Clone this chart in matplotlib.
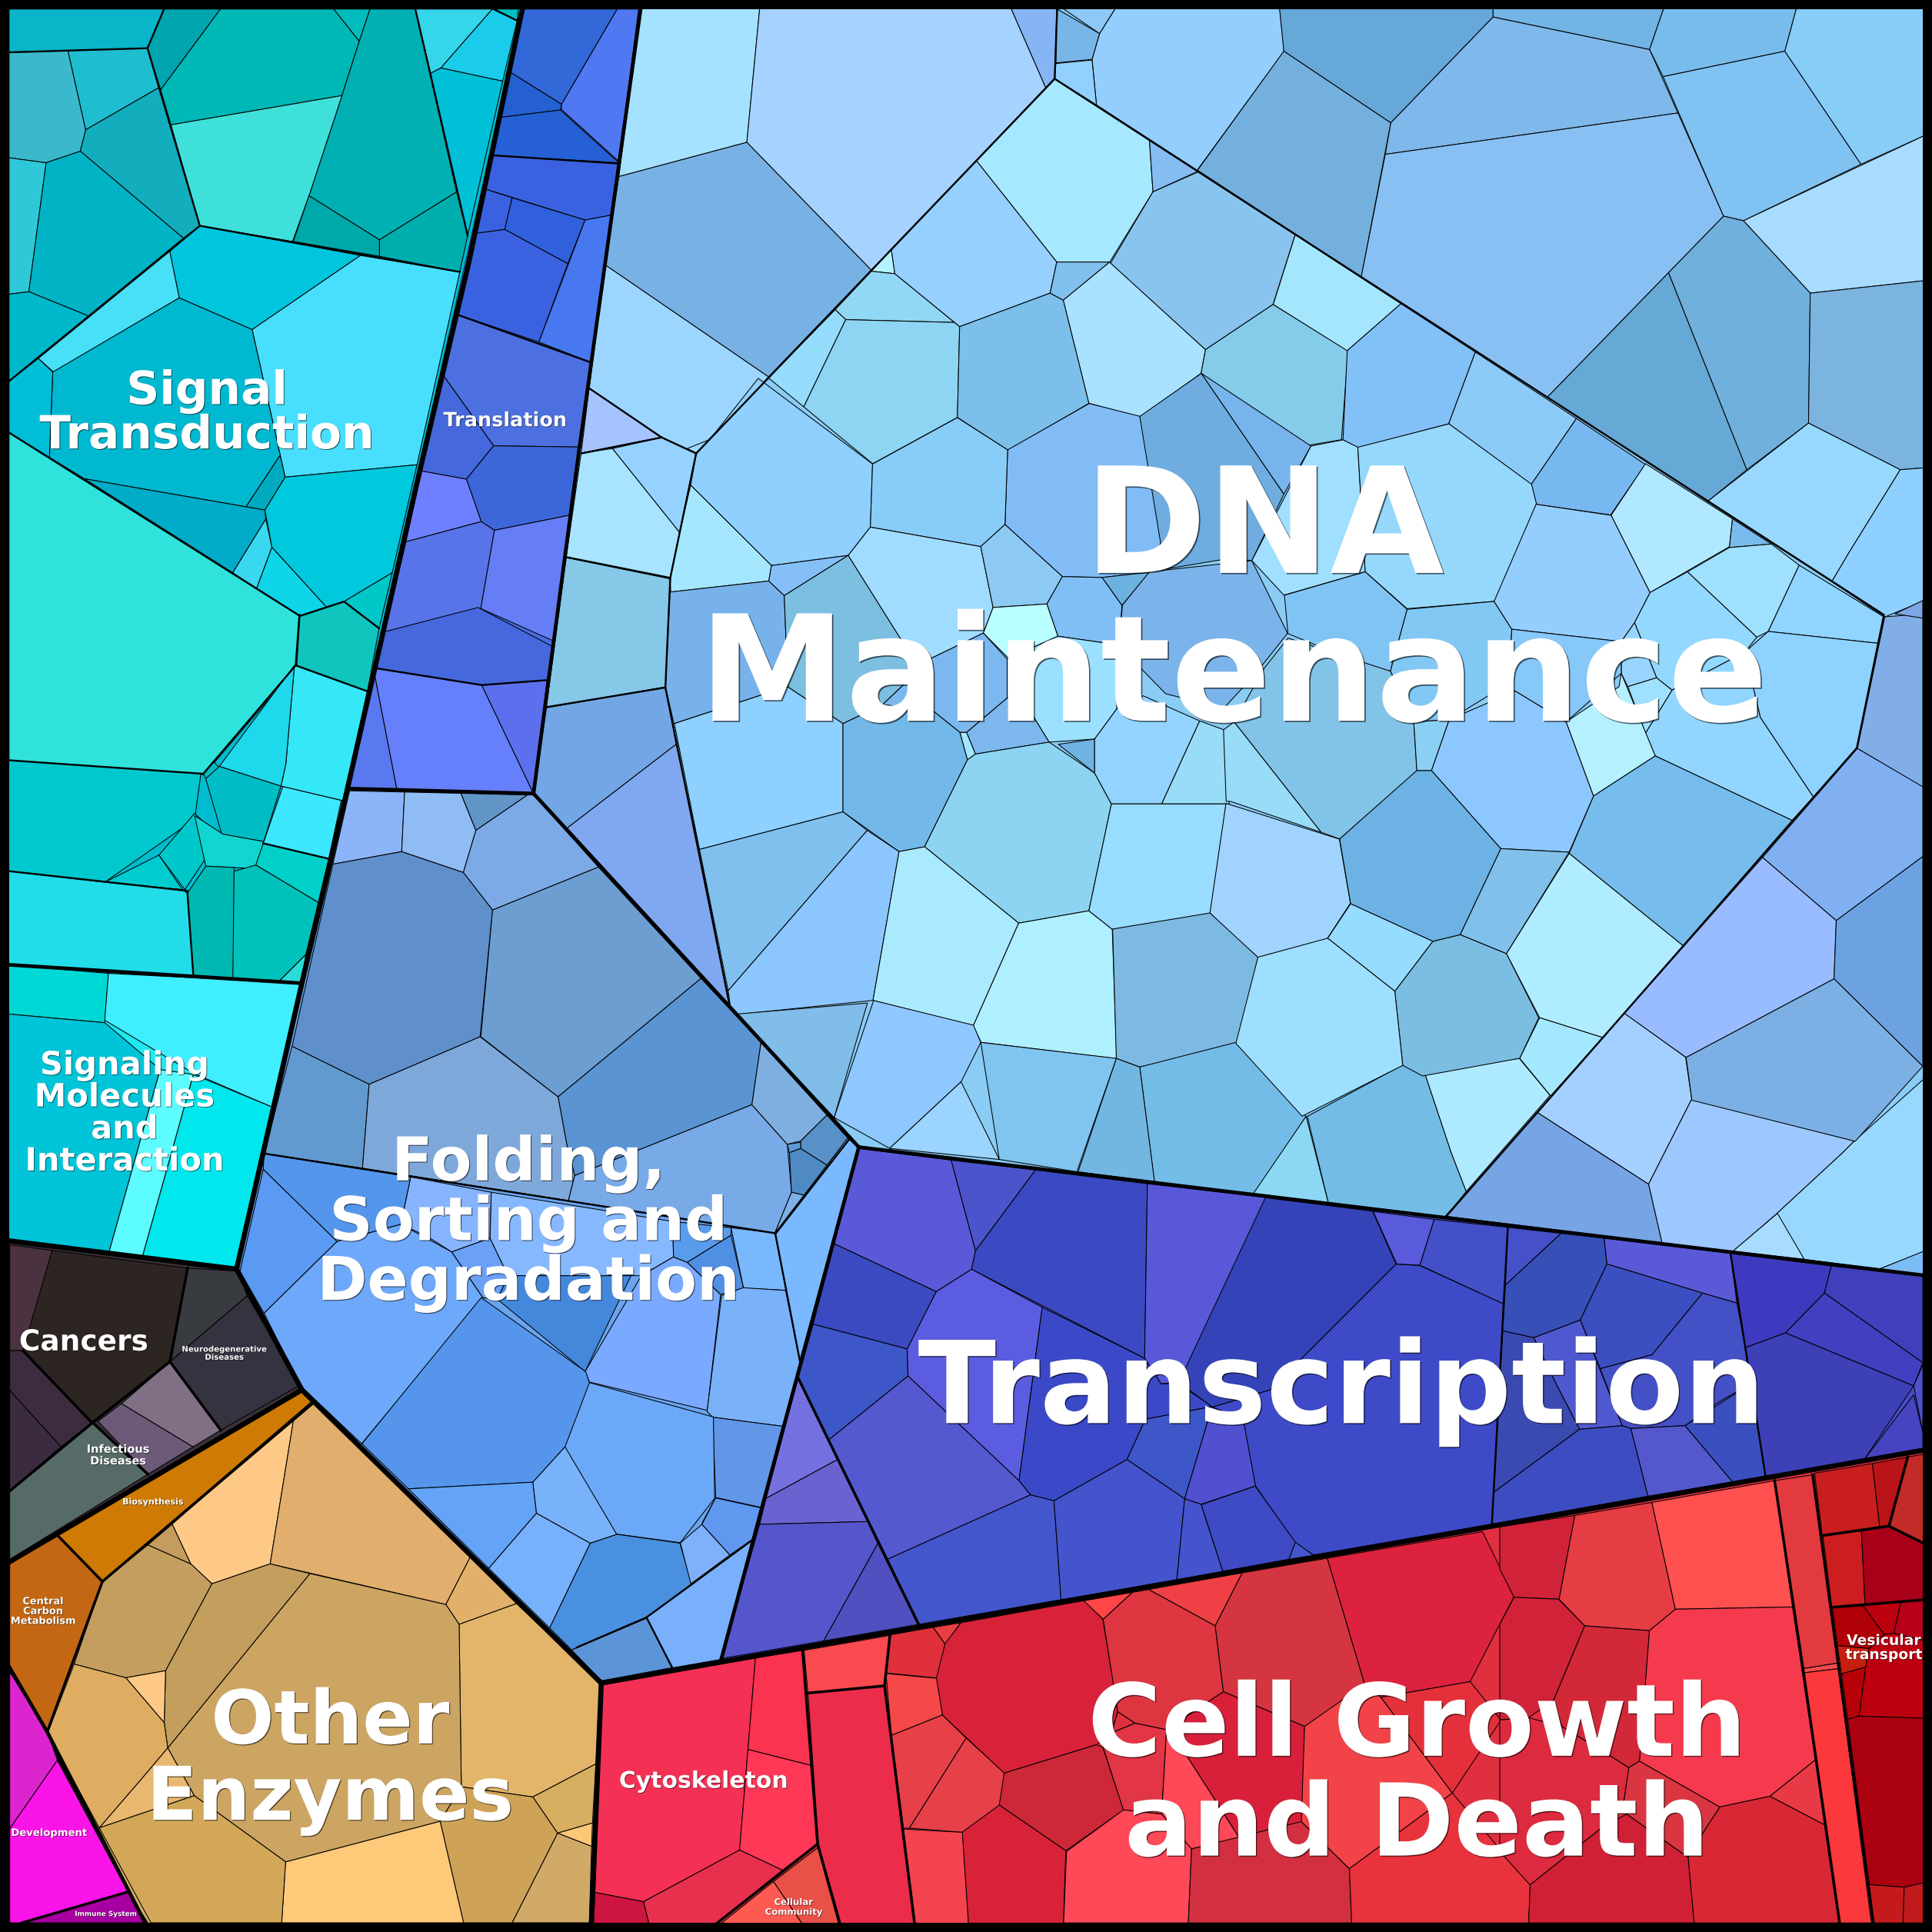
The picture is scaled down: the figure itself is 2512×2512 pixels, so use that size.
import matplotlib
matplotlib.use("Agg")
import matplotlib.pyplot as plt
import matplotlib.patheffects as pe
from matplotlib.patches import Rectangle

# Areas of the picture the vertices were read from: x, y, width, height
view = (0, 0, 2512, 2512)
crop_a = (0, 0, 840, 840)
crop_b = (700, 500, 900, 900)
crop_c = (1600, 600, 900, 900)
crop_d = (0, 1600, 900, 900)
crop_e = (300, 1000, 850, 850)
crop_f = (900, 1460, 800, 800)
crop_g = (1700, 1500, 812, 812)
crop_h = (750, 1900, 612, 612)
crop_i = (1350, 1850, 662, 662)
crop_j = (1950, 1850, 562, 662)
crop_k = (800, 0, 900, 720)
crop_l = (1650, 0, 862, 720)


def conv(crop, pts):
    x0, y0, w, h = crop
    return [(x0 + x * w / 1568, y0 + y * h / 1568) for x, y in pts]


def place(crop, cells):
    return [(c, conv(crop, pts)) for c, pts in cells]


# Top level blocks, painted first
regions = [
    ("#00bcd0", [(7, 7), (424, 7), (245, 798), (7, 783)]),
    ("#20e8f0", [(7, 783), (245, 798), (192, 1030), (7, 1007)]),
    ("#4a6ee0", [(424, 7), (520, 7), (433, 644), (282, 640)]),
    ("#8accf4", [(520, 7), (1561, 7), (1561, 1035), (697, 931), (433, 644)]),
    ("#6aa4ee", [(282, 640), (433, 644), (697, 931), (585, 1348), (488, 1365), (245, 1128), (192, 1030)]),
    ("#4450c8", [(697, 931), (1561, 1035), (1561, 1177), (585, 1348)]),
    ("#e03040", [(488, 1365), (1561, 1177), (1561, 1561), (480, 1561)]),
    ("#d4aa66", [(245, 1128), (488, 1365), (480, 1561), (118, 1561), (38, 1405), (82, 1285)]),
    ("#3a3038", [(7, 1007), (192, 1030), (245, 1128), (7, 1268)]),
]

signal_cells = place(crop_a, [
    ("#08b5c9", [(22, 22), (398, 22), (358, 117), (22, 127)]),
    ("#00a5b0", [(398, 22), (535, 22), (390, 218), (358, 117)]),
    ("#00b8b5", [(535, 22), (810, 22), (872, 100), (830, 232), (415, 303), (390, 218)]),
    ("#00bcbc", [(810, 22), (898, 22), (872, 100)]),
    ("#00b0b3", [(898, 22), (1008, 22), (1108, 466), (921, 582), (750, 475), (830, 232), (872, 100)]),
    ("#40e0da", [(415, 303), (830, 232), (750, 475), (710, 586), (485, 548)]),
    ("#00a9a9", [(750, 475), (921, 582), (921, 622), (712, 586)]),
    ("#00aeae", [(921, 582), (1108, 466), (1135, 572), (1116, 660), (921, 622)]),
    ("#35d5ea", [(1008, 22), (1195, 22), (1070, 165), (1045, 178)]),
    ("#1accea", [(1195, 22), (1255, 50), (1220, 197), (1070, 165)]),
    ("#00c0c5", [(1198, 22), (1258, 22), (1255, 50)]),
    ("#00c0d8", [(1045, 178), (1070, 165), (1220, 197), (1135, 572)]),
    ("#3ab9cc", [(22, 127), (165, 123), (208, 315), (195, 367), (112, 395), (22, 383)]),
    ("#1fbdd0", [(165, 123), (358, 117), (385, 213), (208, 315)]),
    ("#12aebd", [(208, 315), (385, 213), (485, 548), (445, 578), (195, 367)]),
    ("#2ec8d8", [(22, 383), (112, 395), (70, 708), (22, 714)]),
    ("#00b4c6", [(112, 395), (195, 367), (445, 578), (215, 767), (70, 708)]),
    ("#00b8cb", [(22, 714), (70, 708), (215, 767), (22, 925)]),
    ("#00c5dd", [(485, 548), (875, 620), (612, 800), (435, 723), (412, 610)]),
    ("#47e0f7", [(412, 610), (435, 723), (130, 903), (93, 870)]),
    ("#48dfff", [(875, 620), (1116, 660), (1012, 1128), (692, 1158), (612, 800)]),
    ("#00b8d0", [(128, 903), (435, 723), (612, 800), (680, 1105), (597, 1230), (205, 1162), (120, 1110)]),
    ("#00aac0", [(680, 1105), (692, 1158), (643, 1238), (597, 1230)]),
    ("#00acc8", [(205, 1162), (643, 1238), (645, 1260), (565, 1390)]),
    ("#3ad8f0", [(645, 1260), (660, 1328), (623, 1428), (565, 1390)]),
    ("#0fd5e8", [(660, 1328), (792, 1473), (728, 1495), (623, 1428)]),
    ("#00c8dd", [(692, 1158), (1012, 1128), (952, 1390), (835, 1460), (792, 1473), (660, 1328), (643, 1238)]),
    ("#00c8c8", [(835, 1460), (952, 1390), (920, 1525)]),
    ("#00bdd8", [(22, 925), (93, 870), (128, 903), (120, 1110), (22, 1050)]),
    ("#30e2dc", [(22, 1050), (728, 1495), (720, 1618), (495, 1880), (22, 1848)]),
    ("#10c5bd", [(728, 1495), (835, 1460), (920, 1525), (892, 1678), (720, 1618)]),
]) + place(view, [
    ("#35e8f8", [(239, 540), (298, 561), (279, 650), (228, 638), (232, 620)]),
    ("#1ed8ec", [(239, 540), (232, 620), (228, 638), (178, 622)]),
    ("#00c8cc", [(7, 617), (163, 628), (158, 665), (85, 716), (7, 707)]),
    ("#00ccd0", [(85, 716), (129, 694), (148, 722)]),
    ("#00c8ca", [(158, 660), (178, 680), (150, 722), (129, 694)]),
    ("#00bcc0", [(165, 628), (173, 618), (180, 625), (167, 632)]),
    ("#00bdc5", [(167, 632), (178, 622), (228, 638), (214, 683), (180, 677)]),
    ("#10d5d0", [(158, 662), (181, 677), (214, 683), (208, 705), (167, 703)]),
    ("#00b8b2", [(167, 703), (190, 704), (190, 797), (157, 793), (152, 725)]),
    ("#22dde8", [(7, 707), (85, 716), (148, 722), (152, 725), (157, 793), (7, 783)]),
]) + place(crop_e, [
    ("#3de8ff", [(125, 42), (265, 75), (235, 215), (78, 178)]),
    ("#00d0c8", [(78, 178), (235, 215), (210, 320), (60, 230)]),
    ("#00c2bb", [(8, 245), (60, 230), (210, 320), (180, 445), (118, 507), (5, 502)]),
    ("#2adcd6", [(180, 445), (170, 512), (118, 507)]),
])

molecule_cells = place(view, [
    ("#00d8d5", [(7, 783), (88, 790), (85, 830), (7, 823)]),
    ("#3feeff", [(88, 790), (245, 798), (222, 899), (157, 871), (85, 828)]),
    ("#00c4d8", [(7, 823), (85, 830), (130, 868), (88, 1018), (7, 1007)]),
    ("#5cfcff", [(130, 868), (157, 872), (115, 1022), (88, 1018)]),
    ("#00e8ee", [(157, 872), (222, 899), (192, 1030), (115, 1022)]),
])

translation_cells = place(crop_a, [
    ("#3268d8", [(1270, 22), (1498, 22), (1363, 253), (1238, 175)]),
    ("#4f78f2", [(1498, 22), (1550, 22), (1502, 392), (1362, 265), (1363, 253)]),
    ("#2560d0", [(1238, 175), (1363, 253), (1360, 267), (1213, 285)]),
    ("#2560d5", [(1213, 285), (1360, 267), (1502, 395), (1195, 377)]),
    ("#3a62e0", [(1195, 377), (1502, 397), (1484, 522), (1420, 534), (1175, 458)]),
    ("#3a62e0", [(1175, 458), (1243, 480), (1225, 557), (1150, 567)]),
    ("#3060dc", [(1243, 480), (1420, 534), (1378, 640), (1225, 557)]),
    ("#3a62e0", [(1150, 567), (1225, 557), (1378, 640), (1308, 830), (1105, 762)]),
    ("#4878f0", [(1420, 534), (1484, 522), (1435, 880), (1308, 830)]),
    ("#4d70e0", [(1105, 762), (1435, 880), (1408, 1085), (1198, 1082), (1073, 907)]),
    ("#4568dc", [(1073, 907), (1198, 1082), (1132, 1163), (1022, 1143)]),
    ("#3d66d8", [(1198, 1082), (1408, 1085), (1385, 1250), (1200, 1287), (1168, 1266), (1132, 1163)]),
    ("#6e80ff", [(1022, 1143), (1132, 1163), (1168, 1266), (985, 1315)]),
    ("#5874e8", [(985, 1315), (1168, 1266), (1200, 1287), (1167, 1477), (932, 1535)]),
    ("#667ef5", [(1200, 1287), (1385, 1250), (1342, 1555), (1167, 1477)]),
]) + place(view, [
    ("#4568dc", [(311, 513), (388, 493), (449, 525), (444, 552), (391, 556), (303, 542)]),
    ("#5a78f0", [(303, 542), (322, 640), (282, 640)]),
    ("#6580fa", [(303, 542), (391, 556), (433, 644), (322, 640)]),
    ("#5c70ee", [(391, 556), (444, 552), (433, 644)]),
])

folding_cells = place(crop_e, [
    ("#8cb4f8", [(285, 52), (417, 55), (410, 198), (245, 228)]),
    ("#90bcf4", [(417, 55), (552, 58), (588, 147), (558, 248), (410, 198)]),
    ("#6295c8", [(552, 58), (712, 62), (588, 147)]),
    ("#7caae6", [(712, 62), (727, 62), (882, 235), (628, 338), (558, 248), (588, 147)]),
    ("#5f90cb", [(245, 228), (410, 198), (558, 248), (628, 338), (598, 642), (332, 756), (147, 665)]),
    ("#6c9ed2", [(628, 338), (882, 235), (1128, 502), (785, 786), (600, 642)]),
    ("#5a94d2", [(1128, 502), (1272, 655), (1250, 805), (825, 975), (806, 900), (785, 786)]),
    ("#629ad0", [(147, 665), (332, 756), (316, 957), (80, 922)]),
    ("#7ea8da", [(332, 756), (598, 642), (785, 786), (806, 900), (825, 975), (810, 1035), (316, 957)]),
    ("#78aae8", [(825, 975), (1250, 805), (1335, 900), (1345, 1015), (1305, 1113), (810, 1035)]),
    ("#7fafe0", [(1272, 655), (1430, 830), (1367, 892), (1335, 900), (1250, 805)]),
    ("#5890c8", [(1430, 830), (1480, 885), (1430, 950), (1367, 910), (1367, 892)]),
    ("#5e9ad8", [(1335, 900), (1367, 895), (1367, 910), (1340, 920)]),
    ("#4f8ac4", [(1340, 920), (1367, 910), (1430, 950), (1375, 1022), (1345, 1015)]),
    ("#80b0e8", [(1345, 1015), (1375, 1022), (1305, 1113)]),
    ("#7ab8ff", [(1505, 908), (1365, 1418), (1305, 1115), (1480, 885)]),
    ("#5496ec", [(80, 922), (432, 978), (408, 1092), (255, 1133), (78, 960)]),
    ("#5a9af2", [(78, 960), (255, 1133), (80, 1305), (22, 1205)]),
    ("#6ea8fb", [(255, 1133), (408, 1092), (530, 1158), (605, 1268), (314, 1618), (166, 1478), (80, 1305)]),
    ("#86b4ff", [(432, 978), (625, 1015), (622, 1125), (530, 1158), (470, 1120), (408, 1092)]),
    ("#6aa0f6", [(622, 1125), (665, 1215), (640, 1272), (605, 1268), (530, 1158)]),
    ("#86b8ff", [(625, 1015), (1060, 1085), (1062, 1170), (985, 1215), (665, 1215), (622, 1125)]),
    ("#4488dc", [(665, 1215), (960, 1215), (850, 1445), (640, 1272)]),
    ("#7aaaff", [(985, 1215), (1062, 1170), (1095, 1183), (1175, 1260), (1143, 1538), (860, 1470), (850, 1445)]),
    ("#5a9cec", [(1060, 1085), (1200, 1100), (1200, 1118), (1095, 1183), (1062, 1170)]),
    ("#5090e4", [(1095, 1183), (1200, 1118), (1230, 1245), (1175, 1260)]),
    ("#7ab8fd", [(1200, 1100), (1305, 1113), (1332, 1250), (1230, 1245)]),
]) + place(crop_f, [
    ("#7ab2fa", [(38, 735), (75, 440), (130, 420), (238, 427), (275, 610), (230, 773), (52, 750)]),
    ("#6296e6", [(52, 750), (230, 773), (175, 980), (60, 955)]),
    ("#5f9af0", [(60, 955), (175, 980), (155, 1062), (97, 1102), (25, 1020)]),
]) + place(view, [
    ("#6ca8f8", [(478, 1122), (579, 1150), (580, 1216), (552, 1252), (500, 1245), (458, 1174)]),
]) + place(crop_d, [
    ("#5596ec", [(1090, 152), (1327, 320), (1335, 345), (1280, 490), (1207, 570), (925, 585), (820, 483)]),
    ("#4a90e0", [(1337, 708), (1397, 688), (1540, 708), (1567, 800), (1465, 878), (1295, 950), (1245, 900)]),
    ("#77b0fb", [(1215, 640), (1337, 708), (1245, 900), (1107, 765)]),
    ("#78b2fb", [(1207, 570), (1280, 490), (1397, 688), (1337, 708), (1215, 640)]),
    ("#64a4f8", [(925, 585), (1207, 570), (1215, 640), (1107, 765)]),
    ("#5c94d8", [(1295, 950), (1465, 878), (1523, 990), (1362, 1020)]),
]) + place(crop_h, [
    ("#7eb0fc", [(345, 272), (417, 210), (510, 312), (380, 408)]),
    ("#6098f0", [(462, 122), (612, 155), (585, 260), (510, 312), (417, 210)]),
    ("#78b0fb", [(232, 520), (585, 262), (480, 660), (318, 688)]),
])

transcription_cells = place(crop_f, [
    ("#5a5ad8", [(425, 65), (660, 95), (722, 326), (712, 373), (622, 430), (362, 308)]),
    ("#4c54cc", [(660, 95), (875, 120), (722, 326)]),
    ("#3b4ac2", [(875, 120), (1160, 155), (1153, 600), (712, 373), (722, 326)]),
    ("#5858d8", [(1160, 155), (1463, 190), (1270, 600), (1240, 660), (1195, 665), (1153, 600)]),
    ("#3b4ac0", [(362, 308), (622, 430), (548, 576), (308, 513)]),
    ("#3d56c8", [(308, 513), (548, 576), (550, 645), (348, 808), (270, 650)]),
    ("#5c5ce0", [(622, 430), (712, 373), (892, 470), (833, 912), (550, 645), (548, 576)]),
    ("#3b49c8", [(892, 470), (1153, 600), (1195, 665), (1240, 665), (1325, 723), (1155, 755), (1108, 858), (922, 963), (862, 948), (833, 912)]),
    ("#3d56c8", [(1155, 755), (1325, 723), (1255, 958), (1108, 858)]),
    ("#5050d0", [(1325, 723), (1405, 755), (1436, 925), (1297, 972), (1255, 958)]),
    ("#5459d0", [(550, 645), (833, 912), (862, 948), (498, 1112), (348, 808)]),
    ("#4456cc", [(498, 1112), (862, 948), (922, 963), (940, 1215), (577, 1278)]),
    ("#4554cc", [(922, 963), (1108, 858), (1255, 958), (1235, 1165), (940, 1215)]),
    ("#4554cc", [(1255, 958), (1297, 972), (1352, 1143), (1235, 1165)]),
    ("#7570e0", [(270, 650), (370, 858), (188, 957)]),
    ("#6a62d0", [(188, 957), (370, 858), (447, 1016), (172, 1023)]),
    ("#5555cc", [(172, 1023), (447, 1016), (473, 1072), (335, 1320), (75, 1365)]),
    ("#5050c0", [(473, 1072), (577, 1278), (335, 1320)]),
]) + place(view, [
    ("#3444b8", [(1027, 972), (1114, 983), (1133, 1026), (1031, 1128), (984, 1142), (957, 1122), (966, 1102)]),
    ("#3e4ac8", [(1133, 1026), (1152, 1027), (1220, 1058), (1211, 1237), (1066, 1262), (1051, 1252), (1019, 1206),
                 (1009, 1152), (984, 1142), (1031, 1128)]),
]) + place(crop_i, [
    ("#3f4ac6", [(502, 252), (668, 195), (792, 368), (772, 420), (568, 457)]),
    ("#4456cc", [(792, 368), (848, 408), (772, 420)]),
]) + place(crop_g, [
    ("#4450c8", [(318, 165), (503, 185), (492, 377), (282, 280)]),
    ("#5a5adc", [(165, 145), (318, 165), (282, 280), (224, 277)]),
    ("#4650c8", [(503, 185), (637, 200), (497, 330)]),
    ("#3650b8", [(637, 200), (745, 212), (752, 277), (685, 418), (568, 462), (490, 445), (497, 330)]),
    ("#5a5ad8", [(745, 212), (1062, 250), (1078, 375), (992, 350), (752, 277)]),
    ("#3c4fc0", [(752, 277), (992, 350), (865, 505), (735, 540), (685, 418)]),
    ("#4450c5", [(992, 350), (1078, 375), (1100, 490), (1113, 578), (1030, 625), (948, 683), (812, 690), (790, 683), (735, 540), (865, 505)]),
    ("#5058d0", [(568, 462), (685, 418), (790, 683), (683, 692), (610, 550)]),
    ("#3b4ab0", [(490, 445), (568, 462), (610, 550), (683, 692), (468, 850)]),
    ("#3e4cc2", [(683, 692), (790, 683), (812, 690), (855, 860), (463, 930), (468, 850)]),
    ("#5458cc", [(812, 690), (948, 683), (1068, 825), (855, 860)]),
    ("#3a50c0", [(948, 683), (1113, 578), (1150, 810), (1068, 825)]),
    ("#3e3abf", [(1062, 250), (1315, 282), (1298, 350), (1200, 450), (1100, 487)]),
    ("#4040bc", [(1315, 282), (1545, 308), (1545, 525), (1298, 350)]),
    ("#4240c0", [(1298, 350), (1545, 525), (1522, 583), (1200, 450)]),
    ("#3e40b8", [(1100, 487), (1200, 450), (1522, 583), (1398, 768), (1150, 810)]),
    ("#5050d0", [(1522, 583), (1545, 530), (1545, 700)]),
    ("#4644c0", [(1522, 605), (1545, 700), (1545, 740), (1398, 768)]),
])

growth_cells = place(crop_h, [
    ("#f53055", [(85, 742), (595, 655), (570, 960), (542, 1295), (222, 1467), (60, 1436)]),
    ("#f93350", [(595, 655), (752, 630), (780, 1013), (570, 960)]),
    ("#ff3858", [(570, 960), (780, 1013), (802, 1275), (685, 1362), (542, 1295)]),
    ("#e6304e", [(222, 1467), (542, 1295), (685, 1362), (465, 1540), (240, 1540)]),
    ("#cc153f", [(60, 1436), (222, 1467), (240, 1540), (55, 1540)]),
    ("#e85048", [(655, 1400), (805, 1285), (875, 1540), (750, 1540)]),
    ("#fd5b52", [(480, 1540), (655, 1400), (750, 1540)]),
    ("#f94a50", [(757, 630), (1043, 580), (1025, 748), (770, 772)]),
    ("#ec2c4b", [(770, 772), (1025, 748), (1125, 1540), (880, 1540), (805, 1275)]),
    ("#df303c", [(1045, 578), (1187, 553), (1228, 610), (1200, 722), (1030, 705)]),
    ("#e83e44", [(1187, 553), (1278, 538), (1228, 610)]),
    ("#f54848", [(1030, 707), (1200, 723), (1218, 845), (1048, 913)]),
    ("#e84048", [(1048, 913), (1218, 845), (1297, 922), (1108, 1222), (1088, 1222)]),
    ("#e64048", [(1297, 922), (1425, 1038), (1410, 1148), (1285, 1236), (1108, 1222)]),
    ("#f44450", [(1088, 1225), (1285, 1236), (1305, 1540), (1128, 1540)]),
]) + place(view, [
    ("#d8223a", [(780, 1317), (880, 1299), (895, 1314), (904, 1368), (907, 1389), (902, 1406), (890, 1416),
                 (815, 1439), (784, 1410), (765, 1392), (760, 1362), (767, 1334)]),
    ("#cc2838", [(815, 1439), (890, 1416), (895, 1418), (912, 1469), (865, 1502), (811, 1465)]),
    ("#d82238", [(781, 1487), (811, 1465), (865, 1502), (863, 1561), (786, 1561)]),
]) + place(crop_i, [
    ("#ff4545", [(140, 548), (290, 522), (200, 605)]),
    ("#dd3640", [(200, 605), (290, 522), (340, 513), (545, 625), (570, 828), (395, 945), (298, 925), (245, 890), (232, 810)]),
    ("#ee4045", [(340, 513), (628, 462), (545, 625)]),
    ("#d53540", [(628, 462), (890, 417), (1005, 805), (925, 875), (820, 935), (570, 828), (545, 625)]),
    ("#dc223e", [(890, 417), (1368, 335), (1465, 535), (1330, 797), (1055, 845), (1005, 805)]),
    ("#d8203a", [(570, 828), (820, 935), (815, 1230), (685, 1260), (620, 1280), (460, 1030), (395, 945)]),
    ("#e0303e", [(245, 890), (298, 925), (225, 955)]),
    ("#e23545", [(298, 925), (395, 945), (380, 1205), (262, 1192), (200, 1000), (225, 955)]),
    ("#ff4858", [(395, 945), (460, 1030), (620, 1280), (470, 1312), (380, 1205)]),
    ("#ff4858", [(262, 1192), (380, 1205), (472, 1312), (462, 1540), (78, 1540), (87, 1320)]),
    ("#d23040", [(472, 1312), (680, 1260), (810, 1228), (958, 1373), (965, 1540), (462, 1540)]),
    ("#f24348", [(820, 935), (1005, 805), (1055, 845), (1275, 1140), (1120, 1255), (958, 1373), (810, 1228)]),
    ("#e8323c", [(958, 1373), (1275, 1140), (1515, 1423), (1510, 1540), (965, 1540)]),
    ("#e4303a", [(1055, 845), (1330, 797), (1425, 915), (1275, 1140)]),
]) + place(crop_j, [
    ("#e63c44", [(272, 285), (552, 245), (637, 574), (543, 640), (308, 625), (215, 543)]),
    ("#ff5050", [(552, 245), (997, 178), (1062, 567), (637, 574)]),
    ("#d02238", [(0, 320), (272, 285), (215, 543), (52, 537), (0, 450)]),
    ("#d02238", [(52, 537), (213, 543), (308, 625), (195, 855), (105, 908), (0, 915), (0, 620)]),
    ("#d22838", [(308, 625), (543, 640), (507, 1042), (468, 1062), (405, 1028), (225, 935), (195, 855)]),
    ("#f53a4e", [(543, 640), (637, 574), (1062, 567), (1145, 1038), (980, 1150), (798, 1183), (507, 1042)]),
    ("#e23a3e", [(997, 178), (1135, 160), (1225, 740), (1100, 757)]),
    ("#f44a50", [(1100, 757), (1225, 740), (1228, 757), (1102, 770)]),
    ("#fb383c", [(1102, 770), (1228, 757), (1348, 1540), (1233, 1540)]),
    ("#e83a46", [(980, 1150), (1145, 1038), (1178, 1238)]),
    ("#d82835", [(798, 1183), (980, 1150), (1178, 1238), (1230, 1540), (705, 1540), (683, 1338), (750, 1245)]),
    ("#da3642", [(468, 1062), (507, 1042), (798, 1183), (750, 1245), (683, 1338), (460, 1205), (450, 1165)]),
    ("#dc2a3e", [(105, 908), (225, 935), (405, 1028), (468, 1062), (450, 1165), (380, 1240), (110, 1423), (0, 1320), (0, 915)]),
    ("#cf2035", [(110, 1423), (380, 1240), (460, 1205), (683, 1338), (705, 1540), (105, 1540)]),
])

vesicular_cells = place(crop_j, [
    ("#c81e1e", [(1142, 155), (1352, 125), (1378, 320), (1170, 347)]),
    ("#bb1418", [(1352, 125), (1480, 105), (1412, 318), (1378, 320)]),
    ("#c42a28", [(1480, 105), (1536, 97), (1536, 370), (1412, 318)]),
    ("#cc1e1e", [(1172, 347), (1312, 333), (1325, 560), (1205, 568)]),
    ("#a80018", [(1312, 333), (1412, 318), (1536, 370), (1536, 545), (1325, 560)]),
    ("#b00008", [(1207, 570), (1318, 563), (1395, 652), (1340, 695), (1225, 686)]),
    ("#bc0010", [(1318, 563), (1455, 552), (1430, 648), (1395, 652)]),
    ("#b80018", [(1455, 552), (1536, 545), (1536, 670), (1430, 648)]),
    ("#c81e10", [(1225, 686), (1340, 695), (1327, 752), (1240, 773)]),
    ("#bc0010", [(1340, 695), (1395, 652), (1430, 648), (1536, 670), (1536, 910), (1303, 903), (1327, 752)]),
    ("#b80008", [(1240, 773), (1327, 752), (1303, 903), (1262, 913)]),
    ("#aa0010", [(1262, 913), (1303, 903), (1536, 910), (1536, 1417), (1467, 1430), (1340, 1422)]),
    ("#c41a1c", [(1340, 1422), (1467, 1430), (1463, 1540), (1358, 1540)]),
    ("#c01a1c", [(1467, 1430), (1536, 1417), (1536, 1540), (1463, 1540)]),
])

enzyme_cells = place(crop_d, [
    ("#fec987", [(705, 388), (665, 428), (612, 755), (480, 800), (432, 755), (390, 665)]),
    ("#e2ae6d", [(710, 390), (1065, 740), (1010, 847), (612, 755), (665, 428)]),
    ("#e2b06a", [(1065, 740), (1170, 845), (1040, 892), (1010, 847)]),
    ("#e2b56a", [(1040, 892), (1170, 845), (1360, 1025), (1350, 1208), (1207, 1283), (1045, 1260)]),
    ("#d8ae60", [(1350, 1208), (1342, 1342), (1263, 1365), (1207, 1283)]),
    ("#fcc878", [(1342, 1342), (1340, 1395), (1263, 1365)]),
    ("#d2aa68", [(1263, 1365), (1340, 1395), (1335, 1568), (1160, 1568)]),
    ("#cea358", [(1207, 1283), (1263, 1365), (1160, 1568), (1050, 1568), (997, 1338), (1045, 1260)]),
    ("#ffc97a", [(647, 1430), (997, 1338), (1050, 1568), (638, 1568)]),
    ("#cca562", [(702, 777), (1010, 847), (1040, 892), (1045, 1260), (997, 1338), (647, 1430), (440, 1280), (380, 1172)]),
    ("#c39e5c", [(612, 755), (702, 777), (380, 1172), (372, 1115), (375, 997), (480, 800)]),
    ("#c49e5e", [(432, 755), (480, 800), (375, 997), (285, 1013), (168, 982), (232, 795), (335, 712)]),
    ("#c49c5e", [(335, 712), (390, 665), (432, 755)]),
    ("#fec987", [(285, 1013), (375, 997), (372, 1115)]),
    ("#dfad62", [(168, 982), (285, 1013), (372, 1115), (380, 1172), (320, 1243), (225, 1353), (108, 1138)]),
    ("#e8b870", [(380, 1172), (440, 1280), (225, 1353), (320, 1243)]),
    ("#d2a858", [(225, 1353), (440, 1280), (647, 1430), (638, 1568), (342, 1568)]),
])

small_group_cells = place(crop_d, [
    ("#4a3240", [(22, 32), (118, 45), (60, 272), (22, 272)]),
    ("#2d2522", [(118, 45), (425, 85), (385, 297), (208, 435), (52, 272)]),
    ("#3d2c40", [(22, 272), (52, 272), (208, 435), (138, 490), (22, 362)]),
    ("#3b2b40", [(22, 362), (138, 490), (22, 590)]),
    ("#383c40", [(425, 85), (540, 92), (560, 148), (385, 297)]),
    ("#353340", [(560, 148), (680, 350), (500, 452), (385, 297)]),
    ("#806f85", [(385, 297), (500, 452), (437, 490), (275, 392)]),
    ("#6c5a78", [(275, 392), (437, 490), (335, 552), (222, 432)]),
    ("#566b67", [(210, 435), (335, 552), (22, 745), (22, 590)]),
    ("#ce7a05", [(680, 360), (705, 388), (232, 795), (130, 690)]),
    ("#c46714", [(22, 752), (130, 690), (232, 795), (107, 1135), (22, 985)]),
    ("#dd25cf", [(22, 1000), (107, 1135), (130, 1200), (22, 1355)]),
    ("#fa14e8", [(22, 1355), (130, 1200), (290, 1498), (50, 1568), (22, 1568)]),
    ("#a800a0", [(290, 1498), (335, 1568), (50, 1568)]),
])

dna_cells = place(crop_k, [
    ("#a5e2ff", [(57, 25), (327, 25), (298, 403), (8, 500)]),
    ("#a5d2ff", [(327, 25), (897, 25), (975, 248), (580, 765), (298, 403)]),
    ("#85b5f5", [(897, 25), (1000, 25), (995, 222), (975, 248)]),
    ("#78b2e4", [(8, 500), (298, 403), (580, 765), (347, 1067), (-23, 750)]),
    ("#9cd6ff", [(-23, 750), (347, 1067), (183, 1283), (105, 1240), (-59, 1100)]),
    ("#9fd8ff", [(163, 1270), (213, 1245), (183, 1283)]),
    ("#a5e8ff", [(995, 222), (1210, 397), (1218, 543), (1120, 742), (1000, 742), (818, 455)]),
    ("#95d0ff", [(625, 705), (818, 455), (1000, 742), (985, 830), (780, 925), (633, 775)]),
    ("#b5f2ff", [(625, 705), (633, 775), (580, 768)]),
    ("#90d8f5", [(580, 768), (633, 775), (768, 913), (522, 905), (498, 877)]),
    ("#96dcfc", [(498, 877), (522, 905), (427, 1152), (347, 1070)]),
    ("#8dd5f2", [(522, 905), (768, 913), (780, 925), (775, 1182), (583, 1313), (427, 1152)]),
    ("#7cbfea", [(780, 925), (985, 830), (1015, 850), (1073, 1142), (890, 1275), (775, 1182)]),
    ("#80c0ee", [(1000, 742), (1120, 742), (1015, 850), (985, 830)]),
    ("#a8e2ff", [(1120, 742), (1337, 990), (1327, 1057), (1190, 1182), (1073, 1142), (1015, 850)]),
    ("#88c4ee", [(1218, 543), (1320, 487), (1540, 665), (1490, 862), (1337, 990), (1122, 745)]),
    ("#85bcf2", [(1210, 397), (1320, 485), (1218, 543)]),
    ("#85ccea", [(1337, 990), (1490, 862), (1660, 993), (1645, 1245), (1560, 1263), (1327, 1057)]),
    ("#93ceff", [(1132, 25), (1505, 25), (1515, 145), (1318, 482), (1090, 297), (1080, 168), (1097, 95)]),
    ("#78b6e8", [(1000, 25), (1097, 95), (1080, 168), (998, 178)]),
    ("#8cc8f8", [(1015, 25), (1132, 25), (1097, 95)]),
    ("#92d0ff", [(998, 180), (1080, 170), (1090, 297), (995, 222)]),
]) + place(crop_l, [
    ("#a5e6ff", [(62, 665), (312, 860), (185, 993), (10, 862)]),
    ("#82c0f8", [(312, 860), (488, 997), (425, 1200), (210, 1268), (175, 1245), (185, 993)]),
    ("#8ccaf8", [(488, 997), (727, 1185), (620, 1372), (425, 1200)]),
    ("#78b8f0", [(727, 1185), (890, 1315), (808, 1458), (632, 1428), (620, 1372)]),
    ("#66a8d8", [(25, 25), (530, 25), (530, 48), (288, 348), (35, 145)]),
    ("#74b0de", [(35, 145), (288, 348), (218, 785), (-169, 482)]),
    ("#7fb8ea", [(530, 48), (900, 140), (967, 320), (275, 437), (288, 348)]),
    ("#72b4e4", [(530, 25), (933, 25), (900, 140), (530, 48)]),
    ("#88c0f4", [(275, 437), (967, 320), (1075, 612), (658, 1125), (218, 785)]),
    ("#78bcec", [(933, 25), (1247, 25), (1220, 145), (932, 217), (900, 140)]),
    ("#80c2f2", [(932, 217), (1220, 145), (1400, 465), (1122, 625), (1075, 612)]),
    ("#88ccf8", [(1247, 25), (1548, 25), (1548, 385), (1400, 465), (1220, 145)]),
    ("#a8dcff", [(1122, 625), (1548, 385), (1548, 795), (1280, 830)]),
    ("#66a8d6", [(945, 772), (1130, 1330), (1037, 1420), (658, 1125)]),
    ("#70b0dd", [(1075, 612), (1122, 625), (1280, 830), (1276, 1198), (1130, 1330), (945, 772)]),
    ("#7cb4e0", [(1280, 830), (1548, 795), (1548, 1325), (1493, 1330), (1276, 1198)]),
    ("#98d8ff", [(1037, 1420), (1276, 1198), (1493, 1330), (1370, 1568), (1331, 1647)]),
    ("#8ed0ff", [(1493, 1330), (1548, 1325), (1548, 1702), (1456, 1747), (1331, 1647), (1370, 1568)]),
]) + place(crop_b, [
    ("#a5c4ff", [(115, 8), (278, 120), (97, 155)]),
    ("#8fd0ff", [(498, -14), (757, 180), (752, 323), (702, 387), (528, 410), (345, 228), (358, 155), (388, 125)]),
    ("#82bcf6", [(1063, 148), (1248, 43), (1363, 72), (1415, 360), (1385, 425), (1277, 437), (1187, 435), (1057, 317)]),
    ("#88ccf8", [(757, 180), (949, 75), (1063, 148), (1057, 317), (1002, 367), (752, 323)]),
    ("#a8e4ff", [(97, 155), (168, 145), (320, 335), (298, 440), (63, 392)]),
    ("#95d2ff", [(168, 145), (278, 120), (357, 155), (320, 335)]),
    ("#a5e6ff", [(345, 228), (528, 410), (522, 445), (300, 470), (298, 440), (320, 335)]),
    ("#85c8e8", [(63, 392), (298, 440), (288, 685), (18, 732)]),
    ("#72a6e4", [(18, 732), (288, 685), (312, 815), (65, 1005), (-10, 927)]),
    ("#80a8f0", [(65, 1005), (312, 815), (365, 1053), (432, 1405)]),
    ("#77b2ea", [(298, 470), (522, 445), (557, 478), (565, 685), (500, 705), (307, 768), (288, 685)]),
    ("#86bff8", [(528, 410), (702, 387), (557, 478), (522, 445)]),
    ("#7cbfe0", [(702, 387), (820, 575), (890, 620), (780, 725), (690, 768), (565, 685), (557, 478)]),
    ("#a0dcff", [(752, 323), (1002, 367), (1030, 505), (1008, 563), (890, 620), (820, 575), (702, 387)]),
    ("#8ccaf4", [(1002, 367), (1057, 317), (1187, 435), (1152, 497), (1030, 505)]),
    ("#baffff", [(1030, 505), (1152, 497), (1177, 570), (1065, 620), (1008, 563)]),
    ("#80bff5", [(1187, 435), (1277, 437), (1322, 500), (1315, 590), (1177, 570), (1152, 497)]),
    ("#6cb2e0", [(1277, 437), (1385, 425), (1322, 500)]),
    ("#7cb8f0", [(890, 620), (1008, 563), (1062, 622), (1062, 710), (970, 788), (955, 788), (895, 740), (780, 725)]),
    ("#9ce0ff", [(1177, 570), (1315, 590), (1310, 735), (1260, 803), (1157, 810), (1120, 750), (1062, 710), (1062, 622)]),
    ("#7cb8ee", [(1062, 710), (1120, 750), (1157, 810), (990, 837), (970, 788)]),
    ("#8ed0ff", [(308, 768), (500, 705), (565, 685), (690, 768), (690, 968), (365, 1053)]),
    ("#72b8e8", [(690, 768), (780, 725), (895, 740), (955, 788), (972, 850), (875, 1047), (817, 1058), (690, 968)]),
    ("#a0e8ff", [(955, 788), (970, 788), (990, 837), (972, 850)]),
    ("#8cd4f2", [(990, 837), (1157, 810), (1260, 880), (1298, 950), (1247, 1192), (1088, 1220), (875, 1047), (972, 850)]),
    ("#70b4e4", [(1178, 815), (1260, 803), (1260, 880)]),
    ("#92d4ff", [(1260, 803), (1310, 735), (1370, 705), (1498, 762), (1412, 950), (1298, 950), (1260, 880)]),
    ("#98dcf8", [(1498, 762), (1553, 782), (1565, 950), (1412, 950)]),
    ("#80c0ee", [(365, 1053), (690, 968), (745, 1010), (430, 1373)]),
    ("#8cc6ff", [(745, 1010), (817, 1058), (758, 1395), (450, 1427), (435, 1410), (430, 1373)]),
    ("#aaeaff", [(817, 1058), (875, 1047), (1088, 1220), (985, 1453), (758, 1395)]),
    ("#aef0ff", [(1088, 1220), (1247, 1192), (1300, 1234), (1310, 1527), (1003, 1490), (985, 1453)]),
    ("#98dcff", [(1247, 1192), (1298, 950), (1558, 950), (1522, 1198), (1300, 1234)]),
]) + place(view, [
    ("#6fade0", [(925, 338), (975, 303), (1042, 401), (1016, 455), (999, 453), (933, 464), (942, 441)]),
    ("#78b4ec", [(975, 303), (1064, 362), (1042, 401)]),
    ("#7ab4ea", [(933, 464), (1016, 455), (1045, 514), (1018, 548), (993, 575), (946, 563), (908, 524), (911, 491)]),
    ("#a0dfff", [(1064, 362), (1090, 357), (1102, 363), (1108, 464), (1042, 483), (1016, 455)]),
    ("#95d8fc", [(1102, 363), (1176, 344), (1243, 393), (1247, 409), (1213, 488), (1142, 494), (1108, 464)]),
    ("#a0d4ff", [(995, 652), (1087, 681), (1096, 733), (1077, 762), (1021, 777), (999, 758), (982, 741)]),
    ("#72bce6", [(1061, 906), (1139, 864), (1156, 870), (1178, 936), (1190, 967), (1173, 988), (1078, 976)]),
    ("#aeeaff", [(1156, 870), (1233, 859), (1258, 889), (1190, 967), (1178, 936)]),
    ("#76a4e4", [(1248, 903), (1299, 936), (1338, 961), (1349, 1009), (1173, 987)]),
    ("#a4d0ff", [(1318, 822), (1368, 858), (1373, 892), (1338, 961), (1248, 903)]),
    ("#9cc8ff", [(1373, 892), (1505, 926), (1495, 936), (1442, 985), (1406, 1016), (1349, 1009), (1338, 961)]),
    ("#98d8ff", [(1505, 926), (1561, 876), (1561, 1016), (1525, 1030), (1464, 1022), (1442, 985), (1495, 936)]),
    ("#7cbae2", [(903, 754), (982, 741), (1021, 777), (1006, 848), (925, 866), (906, 859)]),
    ("#74bce8", [(925, 866), (1003, 846), (1060, 906), (1018, 970), (937, 960)]),
    ("#8cd8f4", [(1060, 906), (1078, 976), (1017, 969)]),
    ("#72b6e2", [(906, 859), (925, 866), (937, 959), (875, 951)]),
    ("#80c4f0", [(796, 846), (906, 859), (874, 951), (811, 941)]),
    ("#8ec8ff", [(709, 812), (790, 832), (796, 846), (780, 878), (722, 932), (677, 907)]),
    ("#9ad4ff", [(780, 878), (811, 941), (722, 932)]),
    ("#80bde8", [(598, 823), (704, 814), (677, 907)]),
]) + place(crop_c, [
    ("#b0e8ff", [(940, 5), (1137, 130), (1130, 193), (950, 297), (862, 122)]),
    ("#78bbec", [(1137, 130), (1225, 187), (1130, 195)]),
    ("#9fe0ff", [(1130, 195), (1225, 187), (1288, 235), (1218, 385), (1192, 398), (1035, 250)]),
    ("#90d4ff", [(1288, 235), (1480, 352), (1468, 412), (1218, 385)]),
    ("#92d8ff", [(950, 297), (1035, 250), (1192, 398), (1165, 432), (1000, 518), (965, 490), (915, 365)]),
    ("#98d4ff", [(915, 365), (965, 490), (900, 510), (885, 480), (885, 408)]),
    ("#8ed2ff", [(1218, 385), (1468, 412), (1420, 650), (1320, 760), (1200, 580), (1165, 432)]),
    ("#92d6ff", [(1000, 518), (1165, 432), (1200, 580), (1320, 760), (1272, 813), (962, 667), (940, 615)]),
    ("#a0e0ff", [(900, 510), (965, 490), (1000, 518), (940, 615), (915, 550)]),
    ("#b5f0ff", [(760, 590), (880, 510), (885, 480), (962, 667), (822, 758)]),
    ("#76bcec", [(962, 667), (1272, 813), (1025, 1097), (767, 888), (822, 758)]),
    ("#8cc8ff", [(645, 520), (760, 590), (822, 758), (767, 885), (612, 877), (455, 700), (495, 585)]),
    ("#80c0ea", [(612, 877), (767, 885), (625, 1115), (520, 1072)]),
    ("#b0ecff", [(767, 888), (1025, 1097), (843, 1305), (700, 1260), (625, 1115)]),
    ("#a4e8ff", [(700, 1260), (843, 1305), (725, 1437), (655, 1352)]),
    ("#7cbde2", [(458, 1087), (520, 1072), (625, 1115), (698, 1260), (655, 1352), (435, 1392), (390, 1368), (372, 1200)]),
    ("#6cb2e4", [(247, 855), (420, 700), (455, 700), (612, 877), (520, 1072), (458, 1087), (272, 1002)]),
    ("#96dcff", [(272, 1002), (458, 1087), (372, 1200), (220, 1080)]),
    ("#9edfff", [(62, 1123), (220, 1080), (372, 1200), (390, 1368), (162, 1483), (12, 1318)]),
    ("#80c4f4", [(122, 303), (305, 250), (400, 335), (362, 475), (305, 462), (130, 390)]),
    ("#82c8f4", [(400, 335), (597, 317), (637, 380), (635, 420), (585, 530), (495, 585), (415, 590), (362, 475)]),
    ("#94ceff", [(597, 317), (692, 97), (862, 122), (950, 297), (915, 365), (885, 408), (637, 380)]),
    ("#86c8f8", [(637, 380), (885, 408), (885, 480), (760, 590), (645, 520), (585, 530), (635, 420)]),
    ("#82c4e8", [(130, 400), (362, 475), (415, 590), (422, 700), (247, 855), (205, 840), (8, 590), (75, 470)]),
    ("#98dcf8", [(-16, 608), (8, 590), (205, 840), (0, 770), (-10, 770)]),
    ("#8ad0f4", [(415, 590), (495, 585), (455, 700), (422, 700)]),
    ("#80b0f2", [(1420, 650), (1568, 735), (1568, 895), (1372, 1040), (1205, 897)]),
    ("#82aee8", [(1482, 352), (1568, 345), (1568, 737), (1420, 650)]),
    ("#7ea5e4", [(1505, 345), (1568, 315), (1568, 355)]),
    ("#98bcff", [(1205, 897), (1372, 1040), (1367, 1172), (1032, 1350), (892, 1250)]),
    ("#6ca2e2", [(1372, 1040), (1568, 895), (1568, 1370), (1367, 1172)]),
    ("#7cb0e4", [(1367, 1172), (1568, 1370), (1415, 1540), (1045, 1447), (1032, 1350)]),
]) + place(crop_g, [
    ("#a8dcff", [(1180, 150), (1247, 265), (1068, 245)]),
    ("#7cbcf4", [(1435, 290), (1547, 245), (1547, 305)]),
])

# Borders between sub groups
mid_lines = [conv(*item) for item in [
    (view, [(856, 64), (565, 368)]),
    (view, [(856, 64), (1529, 499), (1507, 607), (1173, 988)]),
    (view, [(856, 64), (858, 7)]),
    (view, [(565, 368), (537, 355), (478, 315)]),
    (view, [(537, 355), (472, 368)]),
    (view, [(565, 368), (544, 469), (540, 558), (592, 815)]),
    (view, [(459, 452), (544, 469)]),
    (view, [(540, 558), (443, 574)]),
    (crop_a, [(1195, 377), (1502, 397)]),
    (crop_a, [(1105, 762), (1435, 880)]),
    (view, [(303, 542), (391, 556), (444, 552)]),
    (crop_a, [(22, 127), (358, 117), (398, 22)]),
    (crop_a, [(358, 117), (485, 548), (22, 925)]),
    (crop_a, [(485, 548), (1116, 660)]),
    (crop_a, [(1008, 22), (1135, 572)]),
    (crop_a, [(1198, 22), (1255, 50)]),
    (crop_a, [(22, 1050), (728, 1495), (835, 1460), (920, 1525)]),
    (view, [(243, 499), (240, 540), (165, 628), (7, 617)]),
    (view, [(240, 540), (298, 561)]),
    (view, [(7, 707), (152, 723), (157, 793)]),
    (crop_e, [(78, 178), (235, 215)]),
    (crop_g, [(503, 185), (463, 930)]),
    (crop_g, [(1062, 250), (1150, 810)]),
    (crop_e, [(80, 922), (1305, 1113)]),
    (crop_f, [(212, 283), (275, 610)]),
    (crop_f, [(212, 283), (400, 42)]),
    (crop_h, [(0, 620), (232, 520), (585, 262)]),
    (crop_h, [(232, 520), (318, 688)]),
]]

heavy_mid_lines = [conv(*item) for item in [
    (crop_d, [(22, 590), (210, 435), (385, 297), (425, 85)]),
    (crop_d, [(210, 435), (335, 552)]),
    (crop_d, [(385, 297), (500, 452)]),
    (crop_d, [(52, 272), (208, 435)]),
    (crop_d, [(130, 690), (232, 795), (710, 390)]),
    (crop_d, [(232, 795), (107, 1135)]),
    (crop_d, [(290, 1498), (50, 1568)]),
    (crop_h, [(752, 630), (802, 1275), (875, 1540)]),
    (crop_h, [(802, 1275), (465, 1540)]),
    (crop_h, [(770, 772), (1025, 748)]),
    (crop_h, [(1043, 580), (1025, 748), (1125, 1540)]),
    (crop_j, [(997, 178), (1100, 757), (1233, 1540)]),
    (crop_j, [(1135, 160), (1355, 1540)]),
    (crop_j, [(1172, 347), (1412, 318), (1480, 105)]),
    (crop_j, [(1412, 318), (1536, 370)]),
    (crop_j, [(1205, 568), (1536, 545)]),
    (crop_f, [(270, 650), (577, 1278)]),
]]

top_lines = [conv(view, pts) for pts in [
    [(424, 7), (380, 215), (340, 385), (282, 640), (245, 798), (192, 1030), (245, 1128), (488, 1366), (480, 1561)],
    [(7, 1007), (192, 1030)],
    [(488, 1366), (1561, 1177)],
    [(245, 1128), (7, 1268)],
]]

light_top_lines = [conv(view, pts) for pts in [
    [(7, 783), (245, 798)],
    [(282, 640), (433, 644), (697, 931)],
    [(520, 7), (470, 365), (433, 644)],
    [(697, 931), (585, 1348)],
    [(697, 931), (1561, 1035)],
    [(7, 1352), (38, 1405), (118, 1561)],
]]

# label lines, centre x, first baseline, line step, font size (picture shown at 1568)
labels = [
    (["DNA"], 1026, 465, 0, 138),
    (["Maintenance"], 1001, 585, 0, 138),
    (["Transcription"], 1089, 1155, 0, 107),
    (["Cell Growth", "and Death"], 1150, 1425, 81, 94),
    (["Other", "Enzymes"], 268, 1415, 62, 69.5),
    (["Folding,", "Sorting and", "Degradation"], 429, 958, 48.5, 56.5),
    (["Signal", "Transduction"], 168, 328, 36, 43),
    (["Signaling", "Molecules", "and", "Interaction"], 101, 872, 26, 30),
    (["Cancers"], 68, 1096, 0, 27),
    (["Translation"], 410, 346, 0, 18.4),
    (["Cytoskeleton"], 571, 1451, 0, 21.5),
    (["Vesicular", "transport"], 1529, 1335, 11.5, 13.5),
    (["Infectious", "Diseases"], 96, 1179, 9.5, 10.5),
    (["Neurodegenerative", "Diseases"], 182, 1097, 6.5, 7.3),
    (["Biosynthesis"], 124, 1221, 0, 8),
    (["Central", "Carbon", "Metabolism"], 35, 1302, 8, 9.3),
    (["Development"], 40, 1490, 0, 9.5),
    (["Immune System"], 86, 1555, 0, 6.4),
    (["Cellular", "Community"], 644, 1546, 8, 8.4),
]

fig = plt.figure(figsize=(25.12, 25.12), dpi=100, facecolor="black")
ax = fig.add_axes([0, 0, 1, 1])
ax.set_xlim(0, 2512)
ax.set_ylim(2512, 0)
ax.axis("off")

for color, pts in place(view, regions):
    ax.fill(*zip(*pts), color=color, lw=0)

all_cells = (signal_cells + molecule_cells + translation_cells + folding_cells + transcription_cells
             + growth_cells + vesicular_cells + enzyme_cells + small_group_cells + dna_cells)
for color, pts in all_cells:
    ax.fill(*zip(*pts), facecolor=color, edgecolor="black", lw=0.75, joinstyle="round")

for pts in mid_lines:
    ax.plot(*zip(*pts), color="black", lw=1.7, solid_joinstyle="round")
for pts in heavy_mid_lines:
    ax.plot(*zip(*pts), color="black", lw=2.5, solid_joinstyle="round")
for pts in light_top_lines:
    ax.plot(*zip(*pts), color="black", lw=3.4, solid_joinstyle="round")
for pts in top_lines:
    ax.plot(*zip(*pts), color="black", lw=4.8, solid_joinstyle="round")

ax.add_patch(Rectangle((6, 6), 2500, 2500, fill=False, edgecolor="black", lw=8.6))

for lines, x, y, step, size in labels:
    for n, line in enumerate(lines):
        px, py = conv(view, [(x, y + n * step)])[0]
        t = ax.text(px, py, line, color="white", fontsize=size, fontweight="bold",
                    ha="center", va="baseline", family="DejaVu Sans")
        s = 0.5 + size / 200
        t.set_path_effects([pe.withSimplePatchShadow(offset=(s, -s), shadow_rgbFace="black", alpha=0.6)])

fig.savefig("out.png", dpi=100, facecolor="black")
